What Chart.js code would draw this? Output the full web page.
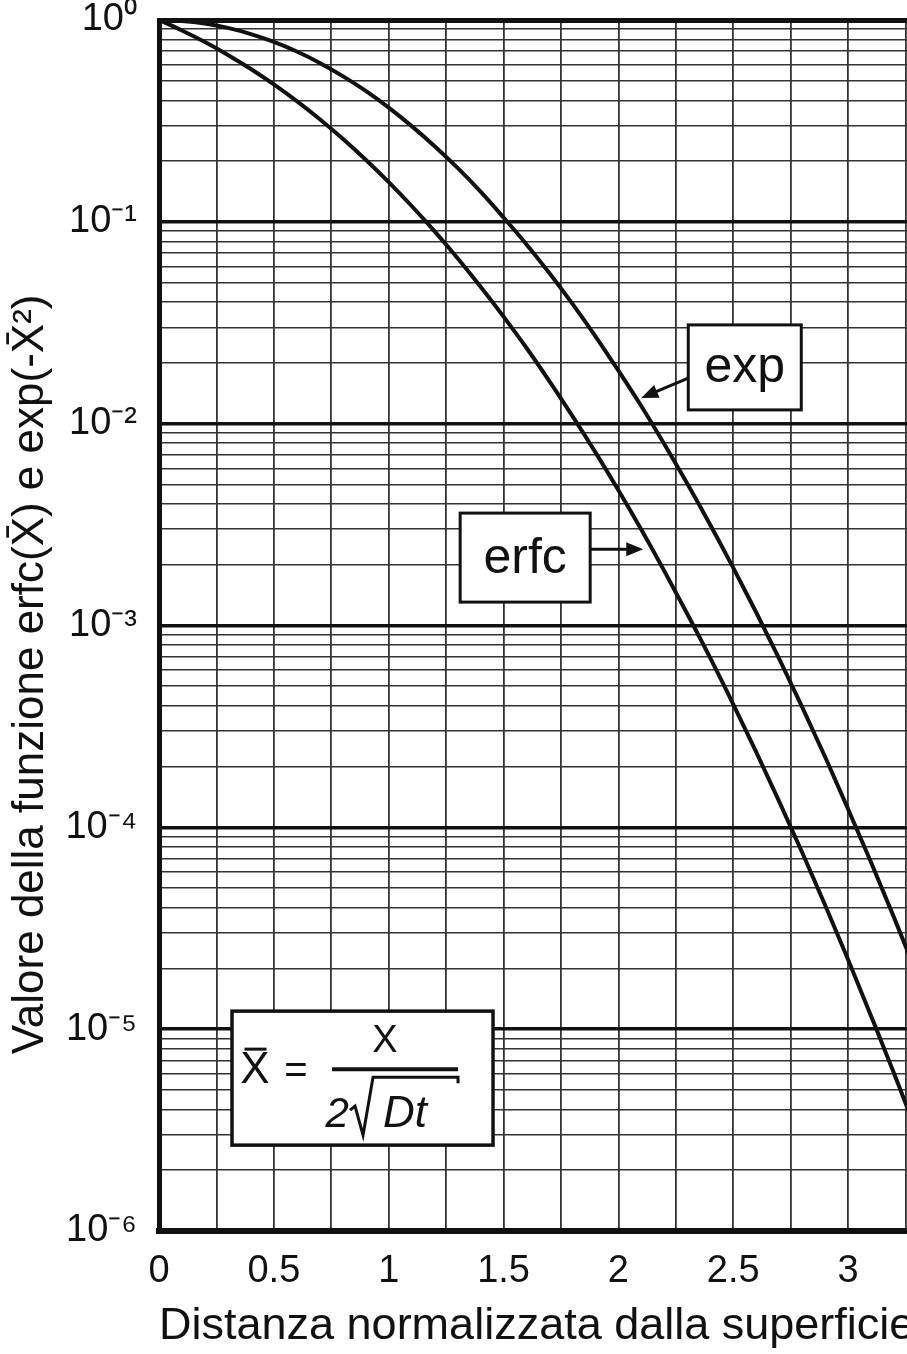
<!DOCTYPE html>
<html>
<head>
<meta charset="utf-8">
<script src="https://cdn.jsdelivr.net/npm/chart.js@4.4.1/dist/chart.umd.min.js"></script>
<style>
  html, body { margin: 0; padding: 0; background: #fff; overflow: hidden; }
  #wrap { position: relative; width: 993px; height: 1354px; }
</style>
</head>
<body>
<div id="wrap"><canvas id="erfcChart"></canvas></div>
<script>
// distanza normalizzata (x barrato)
const xValues = [0, 0.1, 0.2, 0.3, 0.4, 0.5, 0.6, 0.7, 0.8, 0.9, 1.0, 1.1, 1.2, 1.3, 1.4, 1.5, 1.6, 1.7,
  1.8, 1.9, 2.0, 2.1, 2.2, 2.3, 2.4, 2.5, 2.6, 2.7, 2.8, 2.9, 3.0, 3.1, 3.2, 3.3, 3.4, 3.5];

// valori
const erfcValues = [1, 0.8875, 0.7773, 0.6714, 0.5716, 0.4795, 0.3961, 0.3222, 0.2579, 0.2031,
  0.1573, 0.1198, 0.0897, 0.0660, 0.0477, 0.0339, 0.0237, 0.0162, 0.0109, 0.00721,
  0.00468, 0.00298, 0.00186, 0.00114, 6.89e-4, 4.07e-4, 2.36e-4, 1.34e-4, 7.50e-5, 4.11e-5,
  2.21e-5, 1.16e-5, 6.03e-6, 3.06e-6, 1.52e-6, 7.43e-7];
const expValues = [1, 0.990, 0.961, 0.914, 0.852, 0.779, 0.698, 0.613, 0.527, 0.445,
  0.368, 0.298, 0.237, 0.185, 0.141, 0.105, 0.0773, 0.0556, 0.0392, 0.0271,
  0.0183, 0.0122, 0.00791, 0.00504, 0.00315, 0.00193, 0.00116, 6.83e-4, 3.94e-4, 2.23e-4,
  1.23e-4, 6.70e-5, 3.57e-5, 1.86e-5, 9.52e-6, 4.79e-6];

const xGridSteps = [0, 0.25, 0.5, 0.75, 1, 1.25, 1.5, 1.75, 2, 2.25, 2.5, 2.75, 3, 3.25, 3.5];
const xTickLabels = ['0', '0.5', '1', '1.5', '2', '2.5', '3', '3.5'];
const yDecadeExponents = [-6, -5, -4, -3, -2, -1, 0];
const yDecadeLabels = ['10\u207B\u2076', '10\u207B\u2075', '10\u207B\u2074', '10\u207B\u00B3', '10\u207B\u00B2', '10\u207B\u00B9', '10\u2070'];
const yMinorMultipliers = [2, 3, 4, 5, 6, 7, 8, 9];

const FONT = "'Liberation Sans', Arial, sans-serif";

let yGridValues = [];
yDecadeExponents.forEach((e) => {
  yGridValues.push(Math.pow(10, e));
  if (e < 0) yMinorMultipliers.forEach((m) => yGridValues.push(m * Math.pow(10, e)));
});

function decadeIndex(v) {
  return yDecadeExponents.findIndex((e) => Math.abs(Math.log10(v) - e) < 1e-9);
}

// riquadri con frecce
const labelBoxes = [
  { text: 'exp', x: 2.55, y: 0.019, w: 113, h: 85, from: [2.304, 0.0168], to: [2.099, 0.0134] },
  { text: 'erfc', x: 1.594, y: 0.00217, w: 130, h: 89, from: [1.877, 0.00239], to: [2.108, 0.00239] },
];
const formulaBox = { x: 0.886, y: 5.72e-6, w: 261, h: 134 };

function drawArrow(ctx, x1, y1, x2, y2) {
  const a = Math.atan2(y2 - y1, x2 - x1);
  const head = 17, half = 7;
  ctx.beginPath();
  ctx.moveTo(x1, y1);
  ctx.lineTo(x2 - head * 0.8 * Math.cos(a), y2 - head * 0.8 * Math.sin(a));
  ctx.lineWidth = 3;
  ctx.stroke();
  ctx.beginPath();
  ctx.moveTo(x2, y2);
  ctx.lineTo(x2 - head * Math.cos(a) + half * Math.sin(a), y2 - head * Math.sin(a) - half * Math.cos(a));
  ctx.lineTo(x2 - head * Math.cos(a) - half * Math.sin(a), y2 - head * Math.sin(a) + half * Math.cos(a));
  ctx.closePath();
  ctx.fill();
}

function box(ctx, cx, cy, w, h, lw) {
  ctx.fillStyle = '#fff';
  ctx.fillRect(cx - w / 2, cy - h / 2, w, h);
  ctx.strokeStyle = '#111';
  ctx.lineWidth = lw;
  ctx.strokeRect(cx - w / 2, cy - h / 2, w, h);
  ctx.fillStyle = '#111';
}

const notePlugin = {
  id: 'notes',
  afterDatasetsDraw(chart) {
    const ctx = chart.ctx;
    const xs = chart.scales.x, ys = chart.scales.y;
    ctx.save();
    labelBoxes.forEach((b) => {
      const cx = xs.getPixelForValue(b.x), cy = ys.getPixelForValue(b.y);
      ctx.strokeStyle = '#111';
      ctx.fillStyle = '#111';
      drawArrow(ctx, xs.getPixelForValue(b.from[0]), ys.getPixelForValue(b.from[1]),
        xs.getPixelForValue(b.to[0]), ys.getPixelForValue(b.to[1]));
      box(ctx, cx, cy, b.w, b.h, 3);
      ctx.font = '50px ' + FONT;
      ctx.textAlign = 'center';
      ctx.textBaseline = 'alphabetic';
      ctx.fillText(b.text, cx, cy + 15);
    });

    // formula x barrato = x / 2 sqrt(Dt)
    const fx = xs.getPixelForValue(formulaBox.x), fy = ys.getPixelForValue(formulaBox.y);
    box(ctx, fx, fy, formulaBox.w, formulaBox.h, 3.5);
    ctx.textBaseline = 'alphabetic';
    ctx.textAlign = 'center';
    ctx.font = '44px ' + FONT;
    ctx.fillText('X', fx - 107.5, fy + 5);
    ctx.lineWidth = 3;
    ctx.beginPath();
    ctx.moveTo(fx - 118, fy - 29);
    ctx.lineTo(fx - 96, fy - 29);
    ctx.stroke();
    ctx.font = '40px ' + FONT;
    ctx.fillText('=', fx - 66.5, fy + 5);
    ctx.font = '38px ' + FONT;
    ctx.fillText('X', fx + 22.5, fy - 26);
    ctx.lineWidth = 4;
    ctx.beginPath();
    ctx.moveTo(fx - 30.5, fy - 9);
    ctx.lineTo(fx + 95.5, fy - 9);
    ctx.stroke();
    ctx.textAlign = 'left';
    ctx.font = 'italic 42px ' + FONT;
    ctx.fillText('2', fx - 37, fy + 49);
    ctx.font = 'italic 44px ' + FONT;
    ctx.fillText('Dt', fx + 20.5, fy + 49);
    ctx.lineWidth = 3;
    ctx.lineJoin = 'miter';
    ctx.beginPath();
    ctx.moveTo(fx - 12.5, fy + 32);
    ctx.lineTo(fx - 7.5, fy + 28);
    ctx.lineTo(fx + 0.5, fy + 57);
    ctx.lineTo(fx + 10.5, fy - 1);
    ctx.lineTo(fx + 95.5, fy - 1);
    ctx.lineTo(fx + 95.5, fy + 5);
    ctx.stroke();
    ctx.restore();
  },
};

Chart.defaults.font.family = FONT;
Chart.defaults.color = '#111';

const ctx = document.getElementById('erfcChart').getContext('2d');
new Chart(ctx, {
  type: 'line',
  data: {
    datasets: [
      {
        label: 'erfc',
        data: xValues.map((x, i) => ({ x: x, y: erfcValues[i] })),
        borderColor: '#111',
        borderWidth: 4,
        pointRadius: 0,
        cubicInterpolationMode: 'monotone',
        fill: false,
      },
      {
        label: 'exp',
        data: xValues.map((x, i) => ({ x: x, y: expValues[i] })),
        borderColor: '#111',
        borderWidth: 4,
        pointRadius: 0,
        cubicInterpolationMode: 'monotone',
        fill: false,
      },
    ],
  },
  options: {
    responsive: true,
    maintainAspectRatio: false,
    animation: false,
    layout: { padding: { top: 20, right: 30, left: 0, bottom: 0 } },
    plugins: { legend: { display: false }, tooltip: { enabled: false } },
    scales: {
      x: {
        type: 'linear',
        min: 0,
        max: 3.5,
        afterFit: (scale) => {
          scale.height = 123;
          scale.paddingLeft = 0;
          scale.paddingRight = 0;
        },
        afterBuildTicks: (scale) => { scale.ticks = xGridSteps.map((v) => ({ value: v })); },
        ticks: {
          autoSkip: false,
          maxRotation: 0,
          padding: 22,
          font: { size: 38, lineHeight: 1 },
          color: '#111',
          callback: (v) => (Math.abs(v * 2 - Math.round(v * 2)) < 1e-9 ? xTickLabels[Math.round(v * 2)] : ''),
        },
        grid: {
          drawTicks: false,
          color: '#333',
          lineWidth: (c) => (c.tick && c.tick.value === 0 ? 0 : 1.8),
        },
        border: { display: true, color: '#111', width: 6 },
        title: {
          display: true,
          text: 'Distanza normalizzata dalla superficie',
          align: 'start',
          font: { size: 45 },
          color: '#111',
          padding: { top: 0, bottom: 0 },
        },
      },
      y: {
        type: 'logarithmic',
        min: 1e-6,
        max: 1,
        afterFit: (scale) => {
          scale.width = 159;
          scale.paddingTop = 0;
          scale.paddingBottom = 0;
        },
        afterBuildTicks: (scale) => { scale.ticks = yGridValues.map((v) => ({ value: v })); },
        ticks: {
          autoSkip: false,
          padding: 22,
          font: { size: 38, lineHeight: 1 },
          color: '#111',
          callback: (v) => {
            const i = decadeIndex(v);
            return i >= 0 ? yDecadeLabels[i] : '';
          },
        },
        grid: {
          drawTicks: false,
          color: (c) => (c.tick && decadeIndex(c.tick.value) >= 0 ? '#111' : '#333'),
          lineWidth: (c) => {
            if (!c.tick) return 1.6;
            if (c.tick.value === 1) return 5;
            return decadeIndex(c.tick.value) >= 0 ? 3.5 : 1.6;
          },
        },
        border: { display: true, color: '#111', width: 5 },
        title: {
          display: true,
          text: 'Valore della funzione erfc(X\u0304) e exp(-X\u0304\u00B2)        ',
          font: { size: 44 },
          color: '#111',
          padding: { top: 4, bottom: 0 },
        },
      },
    },
  },
  plugins: [notePlugin],
});
</script>
</body>
</html>
